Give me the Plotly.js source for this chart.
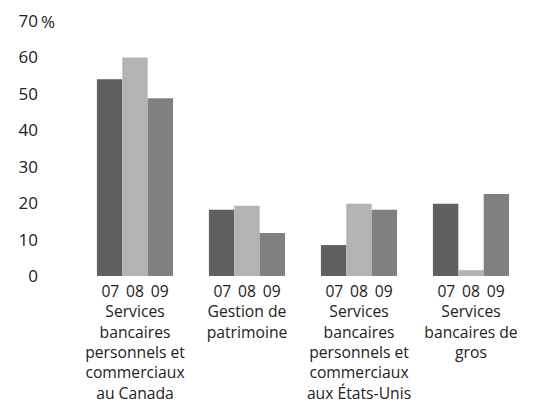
<!DOCTYPE html>
<html>
<head>
<meta charset="utf-8">
<script src="https://cdn.plot.ly/plotly-3.0.1.min.js"></script>
<style>html,body{margin:0;padding:0;background:#fff;}</style>
</head>
<body>
<div id="chart" style="width:538px;height:408px;"></div>
<script>
const categories = ["A", "B", "C", "D"];
const categoryLabels = [
  "07 \u200608 \u200609<br>Services<br>bancaires<br>personnels et<br>commerciaux<br>au Canada",
  "07 \u200608 \u200609<br>Gestion de<br>patrimoine",
  "07 \u200608 \u200609<br>Services<br>bancaires<br>personnels et<br>commerciaux<br>aux États-Unis",
  "07 \u200608 \u200609<br>Services<br>bancaires de<br>gros"
];
const years = ["07", "08", "09"];
const v07 = [54, 18.2, 8.5, 19.8];
const v08 = [60, 19.3, 19.8, 1.6];
const v09 = [48.8, 11.8, 18.2, 22.5];
const yTicks = [0, 10, 20, 30, 40, 50, 60, 70];
const yTickText = ["0", "10", "20", "30", "40", "50", "60", "70"];
const unitLabel = "%";

const colors = ["#606060", "#b3b3b3", "#808080"];
const series = [v07, v08, v09];
const traces = series.map((vals, i) => ({
  type: "bar",
  x: categories,
  y: vals,
  name: years[i],
  marker: {color: colors[i], line: {width: 0}},
  hoverinfo: "skip"
}));

const xfont = {family: "Open Sans", size: 15.7, color: "#222"};
const yfont = {family: "Open Sans", size: 17, color: "#222"};

const layout = {
  width: 538, height: 408,
  margin: {l: 79, r: 11, t: 21, b: 132},
  paper_bgcolor: "#fff", plot_bgcolor: "#fff",
  showlegend: false,
  barmode: "group",
  bargap: 0.32,
  bargroupgap: 0,
  font: xfont,
  xaxis: {
    type: "category",
    range: [-0.5, 3.5],
    tickvals: categories,
    ticktext: categoryLabels,
    showgrid: false, zeroline: false, showline: false, ticks: "",
    tickfont: xfont,
    ticklabelstandoff: 4,
    fixedrange: true
  },
  yaxis: {
    range: [0, 70],
    tickvals: yTicks,
    ticktext: yTickText,
    showgrid: false, zeroline: false, showline: false, ticks: "",
    tickfont: yfont,
    ticklabelstandoff: 40,
    fixedrange: true
  },
  annotations: [{
    text: unitLabel,
    xref: "paper", yref: "y",
    x: (39 - 79) / 448, y: 70,
    xanchor: "left", yanchor: "middle",
    showarrow: false,
    font: yfont
  }]
};

Plotly.newPlot("chart", traces, layout, {staticPlot: true, displayModeBar: false});
</script>
</body>
</html>
